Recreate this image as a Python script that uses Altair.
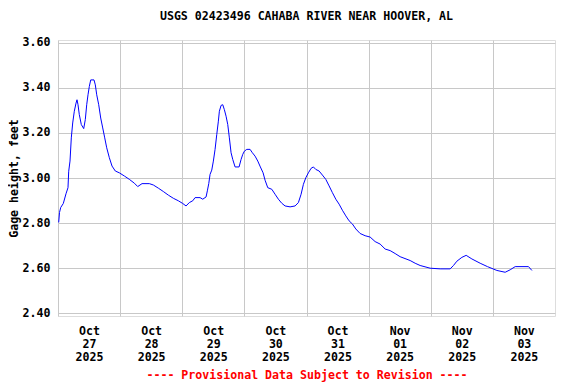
import altair as alt
import pandas as pd

# hours since 2025-10-27 00:00 and gage height (feet)
hours = [0.27, 0.58, 1.04, 2.05, 3.09, 3.86, 4.14, 4.64, 5.14, 5.68, 6.30, 6.96, 7.34, 7.73,
         8.23, 9.00, 9.93, 10.55, 11.09, 11.59, 12.10, 12.64, 13.91, 14.42, 14.96, 15.73,
         16.50, 17.28, 18.05, 18.82, 19.83, 20.87, 22.14, 23.69, 25.62, 27.56, 29.49, 30.80,
         32.46, 35.28, 36.83, 38.76, 40.70, 42.63, 44.56, 46.49, 48.19, 49.47, 50.74, 52.06,
         52.95, 54.88, 55.92, 57.20, 57.70, 58.24, 58.74, 59.40, 60.02, 60.68, 61.33, 61.95,
         62.34, 63.00, 63.65, 64.27, 64.93, 65.58, 66.20, 66.86, 67.52, 68.41, 69.95, 70.72,
         71.38, 72.00, 72.93, 74.20, 75.09, 76.13, 77.18, 78.18, 79.23, 80.00, 81.04, 82.59,
         83.86, 85.14, 86.45, 87.73, 89.66, 91.59, 92.87, 93.91, 94.80, 95.73, 96.73, 97.78,
         98.67, 99.59, 100.87, 102.14, 103.46, 104.73, 106.01, 107.32, 108.60, 109.87, 111.19,
         112.46, 113.74, 115.05, 116.71, 118.65, 120.58, 122.51, 124.44, 126.38, 128.31,
         130.24, 132.17, 136.04, 137.97, 139.90, 143.77, 147.63, 151.50, 152.78, 154.09,
         156.02, 157.68, 159.89, 163.09, 165.91, 169.55, 172.75, 174.69, 176.62, 181.76, 183.07]
gage = [2.803, 2.847, 2.869, 2.887, 2.93, 2.957, 3.03, 3.075, 3.178, 3.244, 3.296, 3.332, 3.347,
        3.325, 3.281, 3.237, 3.219, 3.259, 3.325, 3.369, 3.406, 3.435, 3.435, 3.413, 3.369,
        3.325, 3.266, 3.222, 3.178, 3.134, 3.09, 3.053, 3.031, 3.023, 3.009, 2.994, 2.977,
        2.962, 2.975, 2.975, 2.969, 2.955, 2.94, 2.924, 2.91, 2.899, 2.887, 2.876, 2.891,
        2.899, 2.913, 2.913, 2.906, 2.916, 2.943, 2.975, 3.016, 3.035, 3.075, 3.127, 3.193,
        3.252, 3.296, 3.322, 3.325, 3.303, 3.274, 3.237, 3.178, 3.112, 3.082, 3.049, 3.049,
        3.082, 3.105, 3.119, 3.127, 3.127, 3.112, 3.097, 3.075, 3.049, 3.023, 2.99, 2.957,
        2.95, 2.928, 2.906, 2.888, 2.876, 2.872, 2.876, 2.891, 2.928, 2.972, 3.001, 3.023,
        3.043, 3.049, 3.038, 3.031, 3.013, 2.994, 2.965, 2.935, 2.906, 2.884, 2.857, 2.832,
        2.81, 2.796, 2.774, 2.754, 2.744, 2.738, 2.718, 2.707, 2.685, 2.678, 2.665, 2.651,
        2.634, 2.622, 2.612, 2.60, 2.597, 2.597, 2.612, 2.631, 2.648, 2.657, 2.641, 2.622,
        2.607, 2.59, 2.582, 2.593, 2.607, 2.607, 2.59]

day_ticks = [0, 24, 48, 72, 96, 120, 144, 168]
day_labels = [["Oct", "27", "2025"], ["Oct", "28", "2025"], ["Oct", "29", "2025"],
              ["Oct", "30", "2025"], ["Oct", "31", "2025"], ["Nov", "01", "2025"],
              ["Nov", "02", "2025"], ["Nov", "03", "2025"]]
y_ticks = [2.40, 2.60, 2.80, 3.00, 3.20, 3.40, 3.60]

title_text = "USGS 02423496 CAHABA RIVER NEAR HOOVER, AL"
y_title = "Gage height, feet"
footnote = "---- Provisional Data Subject to Revision ----"

df = pd.DataFrame({"h": hours, "g": gage})

FONT = "DejaVu Sans Mono"
FS = 11.6

lab_js = "[" + ",".join("[" + ",".join("'%s'" % s for s in lab) + "]" for lab in day_labels) + "]"
label_expr = lab_js + "[round(datum.value/24)]"

chart = alt.Chart(df).mark_line(color="#0000ff", strokeWidth=1).encode(
    x=alt.X("h:Q",
            scale=alt.Scale(domain=[0, 192], nice=False, zero=False),
            axis=alt.Axis(values=day_ticks, labelExpr=label_expr, labelOffset=31,
                          grid=True, gridColor="#c8c8c8", gridWidth=1,
                          tickSize=0, domain=False, labelOverlap=False, labelBound=False,
                          labelFont=FONT, labelFontSize=FS, labelFontWeight="bold",
                          labelColor="black", labelBaseline="top", labelPadding=9,
                          labelLineHeight=13, labelAlign="center",
                          title=footnote, titleFont=FONT, titleFontSize=FS,
                          titleFontWeight="bold", titleColor="#ff0000", titlePadding=7)),
    y=alt.Y("g:Q",
            scale=alt.Scale(domain=[2.388, 3.612], nice=False, zero=False),
            axis=alt.Axis(values=y_ticks, format=".2f",
                          grid=True, gridColor="#c8c8c8", gridWidth=1,
                          tickSize=0, domain=False,
                          labelFont=FONT, labelFontSize=FS, labelFontWeight="bold",
                          labelColor="black", labelPadding=8,
                          title=y_title, titleFont=FONT, titleFontSize=FS,
                          titleFontWeight="bold", titleColor="black", titlePadding=3)),
).properties(
    width=497, height=276,
    title=alt.Title(title_text, font=FONT, fontSize=FS, fontWeight="bold",
                    color="black", offset=14, anchor="middle"),
    autosize=alt.AutoSizeParams(type="none"),
    padding={"left": 50, "top": 32, "right": 13, "bottom": 72},
).configure_view(stroke="black", strokeWidth=1).configure(background="white")

chart.save("out.html", embed_options={"renderer": "svg", "actions": False})
